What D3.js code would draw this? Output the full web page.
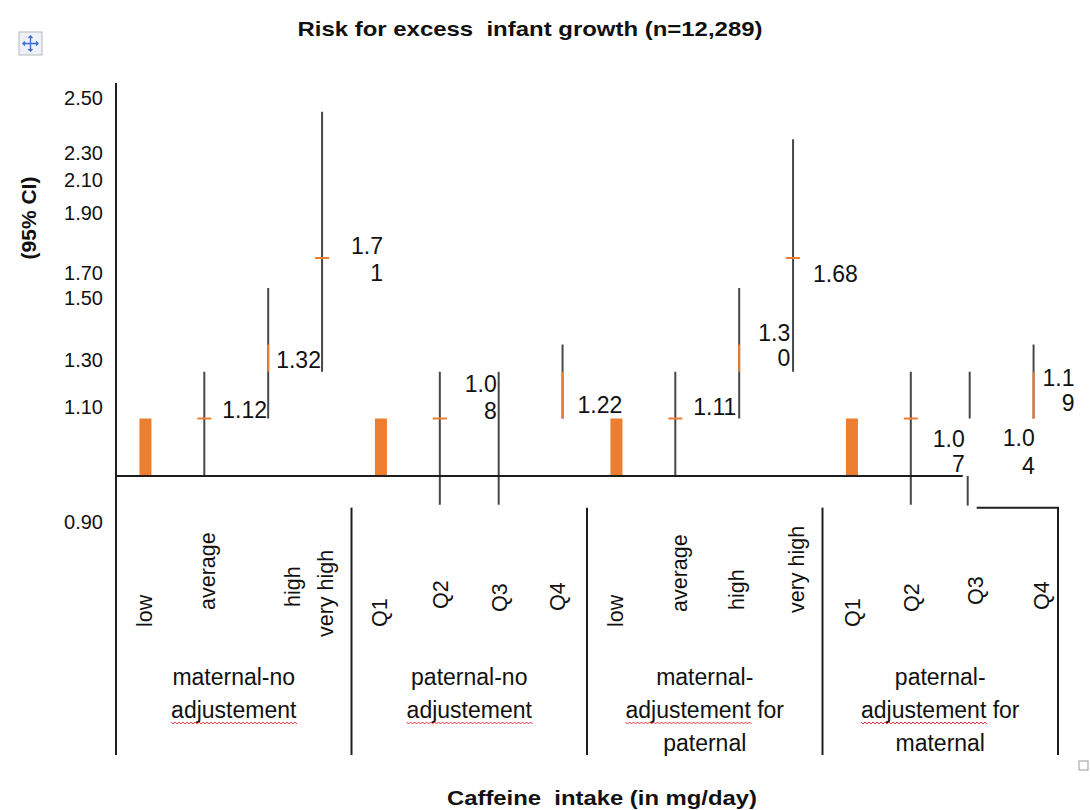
<!DOCTYPE html>
<html><head><meta charset="utf-8">
<script src="https://cdn.jsdelivr.net/npm/d3@7"></script>
<style>
body{margin:0;background:#fff;}
text{font-family:"Liberation Sans",Arial,sans-serif;fill:#111;}
</style></head><body>
<svg id="c" width="1090" height="810"></svg>
<script>
// ---------------- data ----------------
const chartTitle = "Risk for excess  infant growth (n=12,289)";
const xTitle = "Caffeine  intake (in mg/day)";
const yTitle = "(95% CI)";
const groupLabelLines = [
  ["maternal-no", "adjustement"],
  ["paternal-no", "adjustement"],
  ["maternal-", "adjustement for", "paternal"],
  ["paternal-", "adjustement for", "maternal"]
];
const categoryLabels = ["low","average","high","very high","Q1","Q2","Q3","Q4",
                        "low","average","high","very high","Q1","Q2","Q3","Q4"];
const categoryGroup = [0,0,0,0,1,1,1,1,2,2,2,2,3,3,3,3];
// values read on the chart's own (irregular) value axis
const referenceBar = [1.08,null,null,null, 1.08,null,null,null, 1.08,null,null,null, 1.08,null,null,null];
const ciHigh  = [null,1.25,1.58,2.45, null,1.25,1.25,1.35, null,1.25,1.58,2.35, null,1.25,1.25,1.35];
const ciLow   = [null,0.98,1.08,1.25, null,0.93,0.93,1.08, null,0.98,1.08,1.25, null,0.93,1.08,1.08];
const estTick = [null,1.08,null,1.75, null,1.08,null,null, null,1.08,null,1.75, null,1.08,null,null];
const boxLow  = [null,null,1.25,null, null,null,null,1.08, null,null,1.25,null, null,null,null,1.08];
const boxHigh = [null,null,1.35,null, null,null,null,1.25, null,null,1.35,null, null,null,null,1.25];
const estimateLabel = [null,1.12,1.32,1.71, null,1.08,null,1.22, null,1.11,1.30,1.68, null,1.07,1.04,1.19];
const yTickValues = [0.90,1.10,1.30,1.50,1.70,1.90,2.10,2.30,2.50];
const baseValue = 0.98;
const breakValue = 0.925;

// ---------------- layout ----------------
const left = 116, right = 1058, axisTop = 83, frameBottom = 755;
const yRangePx = [522,407,360,298,273,213,180,153,98];
const ORANGE = "#ED7D31", LINE = "#474747", AXIS = "#1e1e1e";
// label layout: [anchor, dx from band centre, dy of first line from y(estimate), wrap, lineGap]
const labelLayout = [
  null, ["start",18,8,false,0], ["start",13,6,false,0], ["end",61,-24,true,27],
  null, ["end",57,-35,true,27], null, ["start",20,26,false,0],
  null, ["start",18,2,false,0], ["end",56,-27,true,25], ["start",20,-2,false,0],
  null, ["end",54,15,true,25], ["end",65,-4,true,28], ["end",46,-8,true,25]
];
const catLabelDx = [0,4,30,4, -1,1,1,0, 0,5,3,4, 1,1,6,13];
const catLabelY  = [627,610,607,637, 627,609,612,611, 627,612,610,613, 627,612,605,610];
const boxShift = 5;

const svg = d3.select("#c");
const x = d3.scaleBand().domain(d3.range(categoryLabels.length)).range([left, right]).padding(0);
const y = d3.scaleLinear().domain(yTickValues).range(yRangePx);
const cx = i => x(i) + x.bandwidth() / 2;
const idx = d3.range(categoryLabels.length);

// title
svg.append("text").attr("x", 530).attr("y", 28).attr("text-anchor","middle")
  .attr("dominant-baseline","central").style("white-space","pre")
  .attr("font-size", 21).attr("font-weight","bold")
  .attr("textLength", 465).attr("lengthAdjust","spacingAndGlyphs").text(chartTitle);
// y title
svg.append("text").attr("transform","translate(28,218) rotate(-90)").attr("text-anchor","middle")
  .attr("dominant-baseline","central").attr("font-size", 21).attr("font-weight","bold").text(yTitle);
// x title
svg.append("text").attr("x", 602).attr("y", 797).attr("text-anchor","middle")
  .attr("dominant-baseline","central").style("white-space","pre")
  .attr("font-size", 21).attr("font-weight","bold")
  .attr("textLength", 310).attr("lengthAdjust","spacingAndGlyphs").text(xTitle);

// y axis labels
const yAxis = d3.axisLeft(y).tickValues(yTickValues).tickFormat(d3.format(".2f")).tickSize(0).tickPadding(13);
const gy = svg.append("g").attr("transform", `translate(${left},0)`).call(yAxis);
gy.select(".domain").remove();
gy.selectAll("text").attr("font-size", 20).style("font-family","'Liberation Sans',Arial,sans-serif").attr("fill","#111");

// reference bars
svg.selectAll("rect.ref").data(idx.filter(i => referenceBar[i] != null)).join("rect")
  .attr("class","ref").attr("x", i => cx(i) - 6).attr("width", 12)
  .attr("y", i => y(referenceBar[i])).attr("height", i => y(baseValue) - y(referenceBar[i]))
  .attr("fill", ORANGE);

// CI lines
const lineX = i => cx(i) + (boxLow[i] != null ? boxShift : 0);
svg.selectAll("line.ci").data(idx.filter(i => ciHigh[i] != null)).join("line")
  .attr("class","ci").attr("x1", lineX).attr("x2", lineX)
  .attr("y1", i => y(ciHigh[i])).attr("y2", i => y(ciLow[i]))
  .attr("stroke", LINE).attr("stroke-width", 2);
// orange up-down segments
svg.selectAll("line.box").data(idx.filter(i => boxLow[i] != null)).join("line")
  .attr("class","box").attr("x1", lineX).attr("x2", lineX)
  .attr("y1", i => y(boxHigh[i])).attr("y2", i => y(boxLow[i]))
  .attr("stroke", ORANGE).attr("stroke-width", 2);
// orange estimate ticks
svg.selectAll("line.tick").data(idx.filter(i => estTick[i] != null)).join("line")
  .attr("class","tick").attr("x1", i => cx(i) - 7).attr("x2", i => cx(i) + 7)
  .attr("y1", i => y(estTick[i])).attr("y2", i => y(estTick[i]))
  .attr("stroke", ORANGE).attr("stroke-width", 2);

// baseline (category axis)
const lastShown = 14;
svg.append("line").attr("x1", left).attr("x2", cx(lastShown) - 7)
  .attr("y1", y(baseValue)).attr("y2", y(baseValue)).attr("stroke", AXIS).attr("stroke-width", 2);
// broken stub under Q3
svg.append("line").attr("x1", cx(lastShown) - 2).attr("x2", cx(lastShown) - 2)
  .attr("y1", y(baseValue)).attr("y2", y(breakValue) - 2).attr("stroke", LINE).attr("stroke-width", 2);
// frame: left axis
svg.append("line").attr("x1", left).attr("x2", left).attr("y1", axisTop).attr("y2", frameBottom)
  .attr("stroke", AXIS).attr("stroke-width", 2);
// group dividers
[4, 8, 12].forEach(k => {
  svg.append("line").attr("x1", x(k)).attr("x2", x(k)).attr("y1", y(breakValue)).attr("y2", frameBottom)
    .attr("stroke", AXIS).attr("stroke-width", 2);
});
svg.append("path").attr("d", `M${cx(lastShown) + 7},${y(breakValue)}H${right}V${frameBottom}`)
  .attr("fill","none").attr("stroke", AXIS).attr("stroke-width", 2);

// data labels
idx.forEach(i => {
  const L = labelLayout[i];
  if (!L || estimateLabel[i] == null) return;
  const s = estimateLabel[i].toFixed(2);
  const lines = L[3] ? [s.slice(0, 3), s.slice(3)] : [s];
  const t = svg.append("text").attr("text-anchor", L[0]).attr("font-size", 23)
    .attr("dominant-baseline","central");
  lines.forEach((ln, k) => {
    t.append("tspan").attr("x", cx(i) + L[1]).attr("y", y(estimateLabel[i]) + L[2] + k * L[4]).text(ln);
  });
});

// category labels (rotated)
idx.forEach(i => {
  svg.append("text").attr("transform", `translate(${cx(i) + catLabelDx[i]},${catLabelY[i]}) rotate(-90)`)
    .attr("dominant-baseline","central").attr("font-size", 21.5).text(categoryLabels[i]);
});

// group labels
const GFS = 23;
groupLabelLines.forEach((lines, g) => {
  const gx = (x(g * 4) + x(g * 4 + 3) + x.bandwidth()) / 2;
  lines.forEach((ln, k) => {
    const t = svg.append("text").attr("x", gx).attr("y", 677 + k * 33).attr("text-anchor","middle")
      .attr("dominant-baseline","central").attr("font-size", GFS).style("white-space","pre").text(ln);
    if (ln.startsWith("adjustement")) {
      // red spell-check squiggle under the word "adjustement"
      const full = t.node().getComputedTextLength();
      const tmp = svg.append("text").attr("font-size", GFS).text("adjustement");
      const w = tmp.node().getComputedTextLength(); tmp.remove();
      const x0 = gx - full / 2, yy = 677 + k * 33 + 12;
      let d = `M${x0},${yy}`;
      for (let p = 0; p < w; p += 2) d += `L${x0 + p + 2},${yy + ((p / 2) % 2 === 0 ? 2 : 0)}`;
      svg.append("path").attr("d", d).attr("fill","none").attr("stroke","#e8333a").attr("stroke-width", 1);
    }
  });
});

// decorations: move handle and resize square
const mh = svg.append("g").attr("transform","translate(19,32)");
mh.append("rect").attr("width", 23).attr("height", 23).attr("fill","#eef2f8").attr("stroke","#b8b8b8");
mh.append("path").attr("d","M11.5,4V19M4,11.5H19M9.5,6L11.5,4L13.5,6M9.5,17L11.5,19L13.5,17M6,9.5L4,11.5L6,13.5M17,9.5L19,11.5L17,13.5")
  .attr("fill","none").attr("stroke","#3a6fd0").attr("stroke-width",1.4);
svg.append("rect").attr("x", 1079).attr("y", 761).attr("width", 9).attr("height", 9)
  .attr("fill","#fff").attr("stroke","#999");
</script>
</body></html>
